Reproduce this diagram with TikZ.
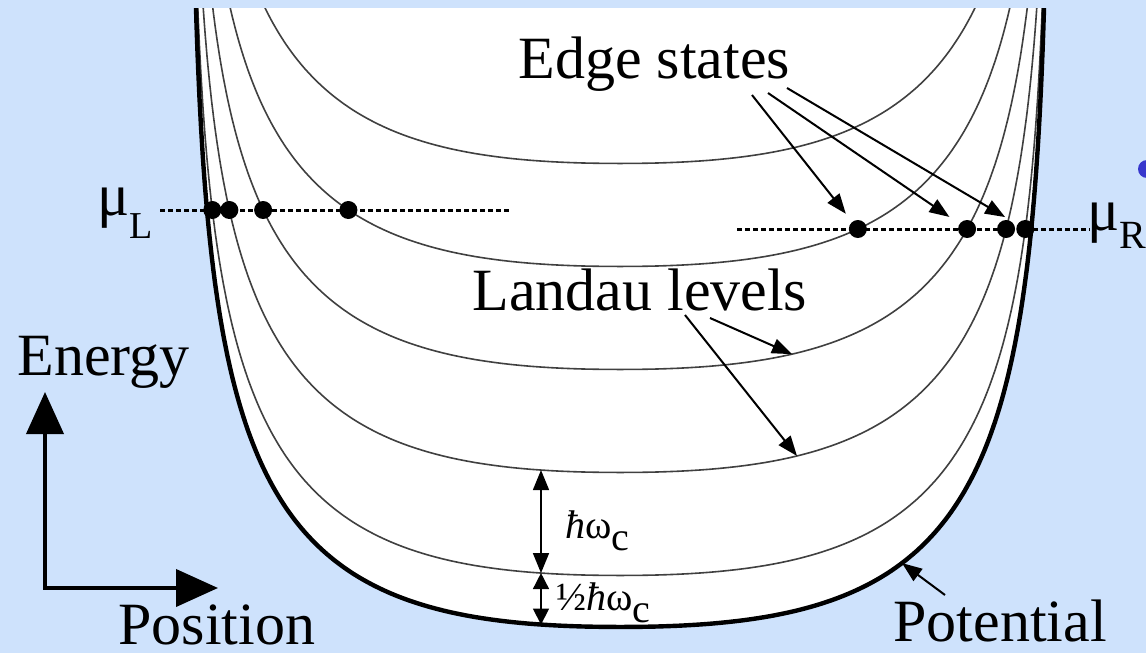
\documentclass[tikz,border=0pt]{standalone}
\usepackage{fontspec}
\setmainfont{Liberation Serif}
\usetikzlibrary{arrows.meta,intersections}

\definecolor{slideblue}{RGB}{206,226,252}
\definecolor{bulletblue}{RGB}{55,55,205}
\newcommand{\lvlgap}{103}

\begin{document}
\begin{tikzpicture}[x=0.5pt, y=-0.5pt,
  declare function={uu(\s)=1-exp(-\s);
    pot(\s)=201.5*(\s-uu(\s)-0.5*uu(\s)^2)+56.9*uu(\s)^2;
    potD(\d)=pot(-ln(1-abs(\d)/430));},
  lbl/.style={inner sep=0, font=\fontsize{30}{36}\selectfont},
  sml/.style={inner sep=0, font=\fontsize{20}{24}\selectfont},
  lvl/.style={draw=black!75, line width=0.8pt},
  wall/.style={draw=black, line width=2.2pt},
  mu/.style={line width=1.5pt, dash pattern=on 2.5pt off 1.5pt},
  edot/.style={circle, fill=black, inner sep=0, minimum size=9pt},
  ptr/.style={-{Triangle[length=10pt,width=7.5pt]}, line width=1pt},
  dim/.style={{Triangle[length=10pt,width=8pt]}-{Triangle[length=10pt,width=8pt]}, line width=0.8pt},
  halfdim/.style={{Triangle[length=8pt,width=8pt]}-{Triangle[length=8pt,width=8pt]}, line width=0.8pt},
  axis/.style={{Triangle[length=21pt,width=18.5pt]}-{Triangle[length=21pt,width=18.5pt]}, line width=2pt}]
\useasboundingbox (0,0) rectangle (1146,653);
\fill[slideblue] (0,0) rectangle (1146,653);

% Potential well and Landau levels
\begin{scope}
\clip (0,8) rectangle (1146,653);
\fill[white] plot[domain=-4.4:4.4, samples=301, variable=\t]
  ({620+sign(\t)*430*uu(abs(\t))}, {627-pot(abs(\t))}) -- cycle;
\foreach \n in {0,...,4} {
  \draw[lvl, name path global=lvl\n] plot[domain=-4.4:4.4, samples=301, variable=\t]
    ({620+sign(\t)*430*uu(abs(\t))}, {627-pot(abs(\t))-(\n+0.5)*\lvlgap});
}
\draw[wall] plot[domain=-4.4:4.4, samples=301, variable=\t]
  ({620+sign(\t)*430*uu(abs(\t))}, {627-pot(abs(\t))});
\end{scope}

% Chemical potentials
\draw[mu, name path=muLline] (160,210) -- (510,210);
\draw[mu, name path=muRline] (737,229) -- (1090,229);
\node[lbl, anchor=base west] (muL) at (97,215) {μ\raisebox{-11.5pt}{\fontsize{19}{20}\selectfont L}};
\node[lbl, anchor=base west] (muR) at (1087,230) {μ\raisebox{-9pt}{\fontsize{20}{21}\selectfont R}};

% Edge states
\foreach \n in {0,...,3} {
  \path[name intersections={of=muLline and lvl\n, by={iL\n}}];
  \path[name intersections={of=muRline and lvl\n, by={iR\n}}];
  \node[edot] (eL\n) at (iL\n) {};
  \node[edot] (eR\n) at (iR\n) {};
}

% Labels
\node[lbl, anchor=base west] (edgelab) at (518,78) {Edge states};
\node[lbl, anchor=base west] (landaulab) at (472,310) {Landau levels};
\node[lbl, anchor=base west] (energylab) at (17,375) {Energy};
\node[lbl, anchor=base west] (poslab) at (118,644) {Position};
\node[lbl, anchor=base west] (potlab) at (893,641) {Potential};
\node[sml, anchor=base west] (hwlab) at (565,538) {\textit{ħ}ω\raisebox{-6pt}{c}};
\node[sml, anchor=base west] (halfhwlab) at (556,610) {½\textit{ħ}ω\raisebox{-6pt}{c}};

% Arrow ends
\coordinate (es1) at (752,95);
\coordinate (es2) at (768,93);
\coordinate (es3) at (787,88);
\coordinate (ll1) at (710,318);
\coordinate (ll2) at (685,315);
\coordinate (lv2tip) at (792,{627-potD(172)-2.5*\lvlgap});
\coordinate (lv1tip) at (797,{627-potD(177)-1.5*\lvlgap});
\coordinate (potTail) at (945,595);
\coordinate (potTip) at (902,{627-potD(282)});
\coordinate (hwTop) at (541,{627-potD(79)-1.5*\lvlgap});
\coordinate (hwMid) at (541,{627-potD(79)-0.5*\lvlgap});
\coordinate (hwBot) at (541,{627-potD(79)});

% Pointers
\draw[ptr, shorten >=5pt] (es1) -- (eR3);
\draw[ptr, shorten >=6pt] (es2) -- (eR2);
\draw[ptr, shorten >=7pt] (es3) -- (eR0);
\draw[ptr] (ll1) -- (lv2tip);
\draw[ptr] (ll2) -- (lv1tip);
\draw[ptr] (potTail) -- (potTip);
\draw[dim] (hwTop) -- (hwMid);
\draw[halfdim] (hwMid) -- (hwBot);

% Axes
\coordinate (axE) at (45,392);
\coordinate (axP) at (218,588);
\draw[axis] (axE) |- (axP);

\fill[bulletblue] (1147,169) circle[radius=4.5pt];
\end{tikzpicture}
\end{document}
